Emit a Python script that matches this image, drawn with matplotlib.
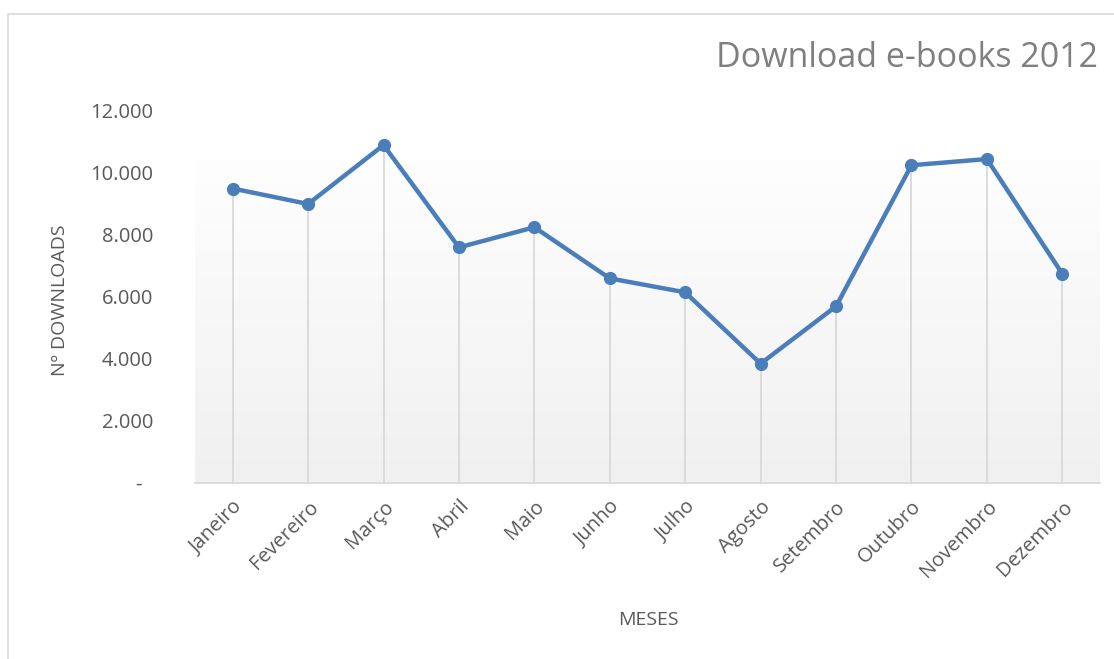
import numpy as np
import matplotlib
matplotlib.use('Agg')
import matplotlib.pyplot as plt
from matplotlib.patches import Rectangle

plt.rcParams['font.family'] = ['Open Sans', 'DejaVu Sans']

# data
meses = ['Janeiro', 'Fevereiro', 'Março', 'Abril', 'Maio', 'Junho',
         'Julho', 'Agosto', 'Setembro', 'Outubro', 'Novembro', 'Dezembro']
downloads = [9500, 9000, 10900, 7600, 8250, 6600, 6150, 3850, 5700, 10250, 10450, 6750]
y_ticks = [0, 2000, 4000, 6000, 8000, 10000, 12000]

grey_txt = '#595959'
line_col = '#4a7ebb'

fig = plt.figure(figsize=(11.14, 6.59), dpi=100)
fig.patch.set_facecolor('white')

# outer chart border
fig.patches.append(Rectangle((8 / 1114, -0.05), 1.2, (659 - 14) / 659 + 0.05,
                             transform=fig.transFigure, fill=False,
                             edgecolor='#d9d9d9', linewidth=1.2))

ax = fig.add_axes([195 / 1114, 176 / 659, 905 / 1114, 372 / 659])
x = np.arange(len(meses))
ax.set_xlim(-0.5, len(meses) - 0.5)
ax.set_ylim(0, 12000)

# gradient background: white near top, light grey at bottom
grad = np.linspace(0.0, 1.0, 256).reshape(-1, 1)
top_val = 10400
ax.imshow(grad, extent=(-0.5, len(meses) - 0.5, 0, top_val), aspect='auto',
          cmap=matplotlib.colors.LinearSegmentedColormap.from_list('g', ['#f0f0f0', '#fefefe']),
          origin='lower', zorder=0)
ax.set_facecolor('white')

# drop lines
ax.vlines(x, 0, downloads, color='#d9d9d9', linewidth=1.3, zorder=1)

ax.plot(x, downloads, color=line_col, linewidth=3.2, marker='o',
        markersize=8.5, zorder=3, solid_capstyle='round')

ax.set_xticks(x)
ax.set_xticklabels(meses, rotation=45, ha='right', rotation_mode='anchor',
                   color=grey_txt, fontsize=14.5)
ax.set_yticks(y_ticks)
ax.set_yticklabels([('-  ' if v == 0 else f'{v:,.0f}'.replace(',', '.')) for v in y_ticks],
                   color=grey_txt, fontsize=14.5)
ax.tick_params(axis='both', length=0)
ax.tick_params(axis='y', pad=30)
ax.tick_params(axis='x', pad=10)

for s in ['top', 'right', 'left']:
    ax.spines[s].set_visible(False)
ax.spines['bottom'].set_color('#d9d9d9')
ax.spines['bottom'].set_linewidth(1.3)

fig.text(60 / 1114, 1 - 300 / 659, 'Nº DOWNLOADS', rotation=90, ha='center', va='center',
         color=grey_txt, fontsize=14)
fig.text(648 / 1114, 1 - 620 / 659, 'MESES', ha='center', va='center',
         color=grey_txt, fontsize=14)
fig.text(1098 / 1114, 1 - 58 / 659, 'Download e-books 2012', ha='right', va='center',
         color='#7f7f7f', fontsize=24.5)

fig.savefig('out.png', dpi=100)
